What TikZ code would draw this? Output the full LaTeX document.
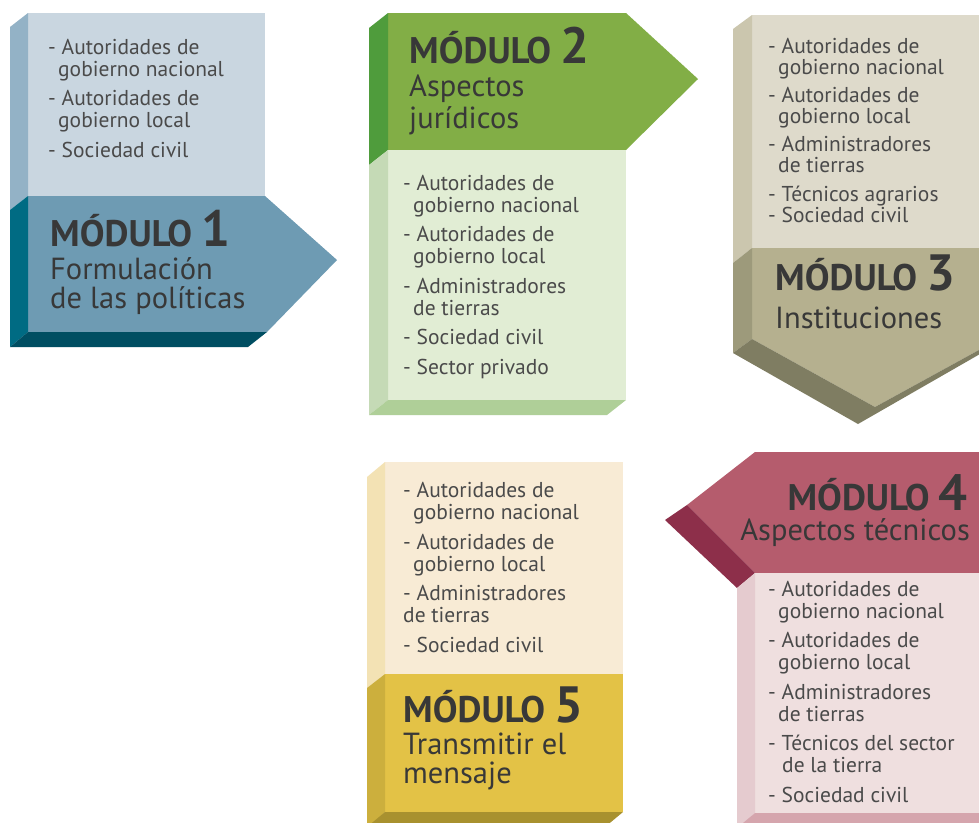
\documentclass[tikz,border=0pt]{standalone}
\usepackage{fontspec}
\setmainfont{PT Sans}
\definecolor{listgray}{HTML}{4A4A4A}
\definecolor{headgray}{HTML}{383838}
% module 1
\definecolor{ma}{HTML}{C9D6E0}\definecolor{mb}{HTML}{93B2C6}\definecolor{mc}{HTML}{6E9BB3}\definecolor{md}{HTML}{006B83}\definecolor{me}{HTML}{004E62}
% module 2
\definecolor{na}{HTML}{E1EDD4}\definecolor{nb}{HTML}{C5DAB6}\definecolor{nc}{HTML}{82AE46}\definecolor{nd}{HTML}{4F9C3C}\definecolor{ne}{HTML}{AFCF98}
% module 3
\definecolor{oa}{HTML}{DEDACB}\definecolor{ob}{HTML}{CBC6AE}\definecolor{oc}{HTML}{B5B08F}\definecolor{od}{HTML}{9D9A7B}\definecolor{oe}{HTML}{7F7D62}
% module 4
\definecolor{pa}{HTML}{EFDFDF}\definecolor{pb}{HTML}{E5CBCF}\definecolor{pc}{HTML}{B55C6D}\definecolor{pd}{HTML}{8D2F4A}\definecolor{pe}{HTML}{D5A5AD}
% module 5
\definecolor{qa}{HTML}{F8EBD5}\definecolor{qb}{HTML}{F3E2B4}\definecolor{qc}{HTML}{E3C246}\definecolor{qd}{HTML}{CCAF3D}\definecolor{qe}{HTML}{A8912F}
\tikzset{
  lst/.style={anchor=base west, align=left, inner sep=0pt, text=listgray, font=\fontsize{21.5}{22}\selectfont},
  hd/.style={anchor=base west, inner sep=0pt, text depth=0pt, text=headgray, font=\fontsize{37}{37}\selectfont\bfseries},
  sub/.style={anchor=base west, align=left, inner sep=0pt, text=headgray, font=\fontsize{30.5}{29}\selectfont},
}
\newcommand\dig[1]{{\fontsize{51}{51}\selectfont #1}}
\newcommand\ind{\hspace*{10pt}}
\begin{document}
\begin{tikzpicture}[x=1pt,y=-1pt]
\clip (0,0) rectangle (979,822);
\fill[white] (0,0) rectangle (979,822);
% ---------- module 1
\fill[ma] (28,13) rectangle (265,196);
\fill[mb] (28,13) -- (10,27) -- (10,210) -- (28,196) -- cycle;
\fill[mc] (28,196) -- (265,196) -- (337,260) -- (267,332) -- (28,332) -- cycle;
\fill[md] (28,196) -- (10,210) -- (10,347) -- (28,332) -- cycle;
\fill[me] (28,332) -- (267,332) -- (248,347) -- (10,347) -- cycle;
% ---------- module 2
\fill[nc] (388,13) -- (626,13) -- (698,79) -- (626,150) -- (388,150) -- cycle;
\fill[nd] (388,13) -- (369,28) -- (369,165) -- (388,150) -- cycle;
\fill[na] (388,150) rectangle (626,400);
\fill[nb] (388,150) -- (369,165) -- (369,415) -- (388,400) -- cycle;
\fill[ne] (388,400) -- (626,400) -- (607,415) -- (369,415) -- cycle;
% ---------- module 3
\fill[oa] (752,15) rectangle (990,248);
\fill[ob] (752,15) -- (733,29) -- (733,263) -- (752,248) -- cycle;
\fill[oc] (752,248) -- (999,248) -- (999,339) -- (875,407) -- (752,339) -- cycle;
\fill[od] (752,248) -- (733,263) -- (733,353) -- (752,339) -- cycle;
\fill[oe] (752,339) -- (875,407) -- (999,339) -- (980,354) -- (858,424) -- (733,353) -- cycle;
% ---------- module 4
\fill[pc] (755,452) -- (990,452) -- (990,573) -- (755,573) -- (687,505) -- cycle;
\fill[pd] (687,505) -- (755,573) -- (737,588) -- (665,520) -- cycle;
\fill[pa] (755,573) rectangle (990,813);
\fill[pb] (755,573) -- (737,588) -- (737,830) -- (755,813) -- cycle;
\fill[pe] (755,813) -- (999,813) -- (981,828) -- (737,828) -- cycle;
% ---------- module 5
\fill[qa] (385,462) rectangle (623,674);
\fill[qb] (385,462) -- (367,477) -- (367,688) -- (385,674) -- cycle;
\fill[qc] (385,674) rectangle (623,812);
\fill[qd] (385,674) -- (367,688) -- (367,830) -- (385,812) -- cycle;
\fill[qe] (385,812) -- (623,812) -- (605,827) -- (367,827) -- cycle;
% ---------- texts (base anchor = baseline of the last line)
\node[lst] (l1) at (48,157) {- Autoridades de\\\ind gobierno nacional\\[7.5pt]- Autoridades de\\\ind gobierno local\\[7.5pt]- Sociedad civil};
\node[hd] (h1) at (50,246) {MÓDULO \dig{1}};
\node[sub] (s1) at (50,308) {Formulación\\de las políticas};

\node[hd] (h2) at (409,63) {MÓDULO \dig{2}};
\node[sub] (s2) at (409,128) {Aspectos\\[3pt]jurídicos};
\node[lst] (l2) at (403,374) {- Autoridades de\\\ind gobierno nacional\\[7.5pt]- Autoridades de\\\ind gobierno local\\[7.5pt]- Administradores\\\ind de tierras\\[7.5pt]- Sociedad civil\\[7.5pt]- Sector privado};

\node[lst, font=\fontsize{21.5}{21}\selectfont] (l3) at (768,222) {- Autoridades de\\\ind gobierno nacional\\[7pt]- Autoridades de\\\ind gobierno local\\[7pt]- Administradores\\\ind de tierras\\[8pt]- Técnicos agrarios\\- Sociedad civil};
\node[hd] (h3) at (775,290) {MÓDULO \dig{3}};
\node[sub] (s3) at (775,328) {Instituciones};

\node[hd, anchor=base east] (h4) at (968,510) {MÓDULO \dig{4}};
\node[sub, anchor=base east] (s4) at (970,540) {Aspectos técnicos};
\node[lst] (l4) at (768,802) {- Autoridades de\\\ind gobierno nacional\\[7.5pt]- Autoridades de\\\ind gobierno local\\[7.5pt]- Administradores\\\ind de tierras\\[7.5pt]- Técnicos del sector\\\hspace*{14pt}de la tierra\\[7.5pt]- Sociedad civil};

\node[lst] (l5) at (403,652) {- Autoridades de\\\ind gobierno nacional\\[7.5pt]- Autoridades de\\\ind gobierno local\\[7.5pt]- Administradores\\de tierras\\[7.5pt]- Sociedad civil};
\node[hd] (h5) at (403,722) {MÓDULO \dig{5}};
\node[sub] (s5) at (403,783) {Transmitir el\\mensaje};
\end{tikzpicture}
\end{document}
